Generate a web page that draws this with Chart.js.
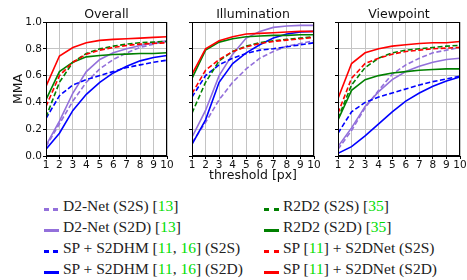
<!DOCTYPE html>
<html>
<head>
<meta charset="utf-8">
<script src="https://cdn.jsdelivr.net/npm/chart.js@4.4.1/dist/chart.umd.min.js"></script>
<style>
    body { margin: 0; background: #fff; }
    #wrap { position: relative; width: 467px; height: 280px; overflow: hidden; }
    canvas { position: absolute; top: 0; }
    #legend { position: absolute; left: 0; top: 0; font-family: "Liberation Serif", serif; font-size: 15.5px; color: #222; }
    .item { position: absolute; white-space: nowrap; line-height: 16px; }
    .mark { position: absolute; height: 3px; }
    .cite { color: #00dd00; }
</style>
</head>
<body>
<div id="wrap">
    <canvas id="overall" width="175" height="185" style="left:0px"></canvas>
    <canvas id="illumination" width="142" height="185" style="left:180px"></canvas>
    <canvas id="viewpoint" width="141" height="185" style="left:326px"></canvas>
    <div id="legend"></div>
</div>
<script>
const thresholds = [1, 2, 3, 4, 5, 6, 7, 8, 9, 10];
const yTicks = [0.0, 0.2, 0.4, 0.6, 0.8, 1.0];

// legend text: start, citation numbers, end
const labelStart = ['D2-Net (S2S) ', 'D2-Net (S2D) ', 'SP + S2DHM ', 'SP + S2DHM ', 'R2D2 (S2S) ', 'R2D2 (S2D) ', 'SP ', 'SP '];
const labelCites = [['13'], ['13'], ['11', '16'], ['11', '16'], ['35'], ['35'], ['11'], ['11']];
const labelEnd = ['', '', ' (S2S)', ' (S2D)', '', '', ' + S2DNet (S2S)', ' + S2DNet (S2D)'];

// Overall
const overallD2S2S = [0.07, 0.24, 0.41, 0.55, 0.65, 0.72, 0.77, 0.81, 0.835, 0.855];
const overallD2S2D = [0.08, 0.26, 0.47, 0.63, 0.72, 0.77, 0.80, 0.825, 0.845, 0.86];
const overallHmS2S = [0.28, 0.45, 0.53, 0.57, 0.60, 0.63, 0.66, 0.68, 0.70, 0.715];
const overallHmS2D = [0.05, 0.17, 0.34, 0.46, 0.55, 0.62, 0.67, 0.71, 0.735, 0.75];
const overallR2S2S = [0.29, 0.55, 0.70, 0.765, 0.80, 0.82, 0.835, 0.845, 0.85, 0.855];
const overallR2S2D = [0.42, 0.63, 0.70, 0.74, 0.75, 0.757, 0.76, 0.765, 0.765, 0.77];
const overallNetS2S = [0.37, 0.60, 0.70, 0.76, 0.79, 0.81, 0.825, 0.835, 0.84, 0.845];
const overallNetS2D = [0.52, 0.746, 0.81, 0.845, 0.863, 0.87, 0.875, 0.88, 0.885, 0.89];

// Illumination
const illumD2S2S = [0.10, 0.25, 0.42, 0.55, 0.65, 0.73, 0.78, 0.82, 0.84, 0.86];
const illumD2S2D = [0.14, 0.34, 0.60, 0.76, 0.88, 0.93, 0.96, 0.97, 0.975, 0.975];
const illumHmS2S = [0.44, 0.60, 0.68, 0.73, 0.765, 0.79, 0.80, 0.815, 0.83, 0.845];
const illumHmS2D = [0.087, 0.27, 0.55, 0.69, 0.77, 0.83, 0.88, 0.91, 0.925, 0.93];
const illumR2S2S = [0.32, 0.55, 0.71, 0.78, 0.82, 0.845, 0.86, 0.87, 0.88, 0.89];
const illumR2S2D = [0.58, 0.79, 0.85, 0.875, 0.89, 0.895, 0.90, 0.90, 0.905, 0.905];
const illumNetS2S = [0.465, 0.64, 0.72, 0.78, 0.815, 0.84, 0.855, 0.865, 0.875, 0.885];
const illumNetS2D = [0.61, 0.80, 0.86, 0.89, 0.91, 0.915, 0.92, 0.925, 0.93, 0.93];

// Viewpoint
const viewD2S2S = [0.05, 0.19, 0.36, 0.49, 0.61, 0.68, 0.73, 0.77, 0.79, 0.81];
const viewD2S2D = [0.07, 0.21, 0.37, 0.48, 0.57, 0.63, 0.67, 0.70, 0.72, 0.73];
const viewHmS2S = [0.17, 0.33, 0.40, 0.44, 0.47, 0.50, 0.53, 0.555, 0.575, 0.595];
const viewHmS2D = [0.02, 0.07, 0.15, 0.24, 0.33, 0.41, 0.47, 0.52, 0.56, 0.59];
const viewR2S2S = [0.28, 0.53, 0.66, 0.73, 0.77, 0.79, 0.80, 0.81, 0.82, 0.825];
const viewR2S2D = [0.27, 0.49, 0.57, 0.60, 0.62, 0.63, 0.64, 0.645, 0.65, 0.65];
const viewNetS2S = [0.32, 0.58, 0.69, 0.73, 0.76, 0.78, 0.79, 0.80, 0.805, 0.81];
const viewNetS2D = [0.43, 0.69, 0.77, 0.80, 0.82, 0.83, 0.84, 0.845, 0.845, 0.855];

// styles
const lineColors = ['#9370db', '#9370db', '#0000ff', '#0000ff', '#008000', '#008000', '#ff0000', '#ff0000'];
const lineDashed = [true, false, true, false, true, false, true, false];

// draws the box round the plot like matplotlib spines
const frame = {
    id: 'frame',
    afterDraw(chart) {
        const a = chart.chartArea;
        const ctx = chart.ctx;
        ctx.save();
        ctx.strokeStyle = '#000';
        ctx.lineWidth = 1;
        ctx.strokeRect(Math.round(a.left) + 0.5, Math.round(a.top) + 0.5, Math.round(a.right - a.left) - 1, Math.round(a.bottom - a.top) - 1);
        ctx.restore();
    }
};

function makeChart(id, title, series, opts) {
    const datasets = series.map((vals, i) => ({
        data: vals.map((v, j) => ({ x: thresholds[j], y: v })),
        borderColor: lineColors[i],
        borderWidth: 1.6,
        borderDash: lineDashed[i] ? [5, 2.5] : [],
        pointRadius: 0,
        tension: 0,
        order: series.length - i
    }));
    new Chart(document.getElementById(id), {
        type: 'line',
        data: { datasets: datasets },
        options: {
            responsive: false,
            animation: false,
            layout: { padding: { left: 0, right: opts.padRight, top: 0, bottom: 0 } },
            plugins: {
                legend: { display: false },
                tooltip: { enabled: false }
            },
            scales: {
                // top axis only carries the panel title, centred on the plot
                xTop: {
                    axis: 'x',
                    type: 'linear',
                    position: 'top',
                    min: 1,
                    max: 10,
                    afterFit: s => { s.height = 22; },
                    grid: { display: false },
                    border: { display: false },
                    ticks: { display: false },
                    title: {
                        display: true,
                        text: title,
                        color: '#111',
                        font: { family: 'DejaVu Sans', size: 12.5, lineHeight: 15 / 12.5 },
                        padding: { top: 7, bottom: 0 }
                    }
                },
                x: {
                    type: 'linear',
                    min: 1,
                    max: 10,
                    afterBuildTicks: s => { s.ticks = thresholds.map(v => ({ value: v })); },
                    afterFit: s => { s.height = 29; },
                    grid: { color: '#c4c4c4', lineWidth: 1, tickLength: 3, tickColor: '#000' },
                    border: { color: '#000', width: 1 },
                    ticks: { color: '#111', padding: 0, maxRotation: 0, autoSkip: false, font: { family: 'DejaVu Sans', size: 10.5 } },
                    title: {
                        display: opts.xTitle,
                        text: 'threshold [px]',
                        color: '#111',
                        font: { family: 'DejaVu Sans', size: 12.5, lineHeight: 15 / 12.5 },
                        padding: { top: 0, bottom: 2 }
                    }
                },
                y: {
                    min: 0,
                    max: 1,
                    afterBuildTicks: s => { s.ticks = yTicks.map(v => ({ value: v })); },
                    afterFit: s => { s.width = opts.yWidth; },
                    grid: { color: '#c4c4c4', lineWidth: 1, tickLength: 3, tickColor: '#000' },
                    border: { color: '#000', width: 1 },
                    ticks: {
                        display: opts.yLabels,
                        color: '#111',
                        padding: 1,
                        font: { family: 'DejaVu Sans', size: 10.5 },
                        callback: v => v.toFixed(1)
                    },
                    title: {
                        display: opts.yLabels,
                        text: 'MMA',
                        color: '#111',
                        font: { family: 'DejaVu Sans', size: 12.5, lineHeight: 15 / 12.5 },
                        padding: { top: 11, bottom: 0 }
                    }
                }
            }
        },
        plugins: [frame]
    });
}

makeChart('overall', 'Overall',
    [overallD2S2S, overallD2S2D, overallHmS2S, overallHmS2D, overallR2S2S, overallR2S2D, overallNetS2S, overallNetS2D],
    { yWidth: 46, padRight: 8, yLabels: true, xTitle: false });
makeChart('illumination', 'Illumination',
    [illumD2S2S, illumD2S2D, illumHmS2S, illumHmS2D, illumR2S2S, illumR2S2D, illumNetS2S, illumNetS2D],
    { yWidth: 12, padRight: 8, yLabels: false, xTitle: true });
makeChart('viewpoint', 'Viewpoint',
    [viewD2S2S, viewD2S2D, viewHmS2S, viewHmS2D, viewR2S2S, viewR2S2D, viewNetS2S, viewNetS2D],
    { yWidth: 12, padRight: 7, yLabels: false, xTitle: false });

// Legend, two columns of four rows
const legend = document.getElementById('legend');
const rowY = [206, 227, 248, 269];
const colMarkX = [44, 264];
const colTextX = [63, 283];
labelStart.forEach((start, i) => {
    const col = Math.floor(i / 4);
    const row = i % 4;
    const mark = document.createElement('div');
    mark.className = 'mark';
    mark.style.left = colMarkX[col] + 'px';
    mark.style.top = (rowY[row] + 2) + 'px';
    mark.style.width = '15px';
    mark.style.background = lineDashed[i]
        ? 'repeating-linear-gradient(90deg, ' + lineColors[i] + ' 0 5px, transparent 5px 9.5px)'
        : lineColors[i];
    legend.appendChild(mark);

    const item = document.createElement('div');
    item.className = 'item';
    item.style.left = colTextX[col] + 'px';
    item.style.top = (rowY[row] - 8) + 'px';
    const cites = labelCites[i].map(c => '<span class="cite">' + c + '</span>').join(', ');
    item.innerHTML = start + '[' + cites + ']' + labelEnd[i];
    legend.appendChild(item);
});
</script>
</body>
</html>
